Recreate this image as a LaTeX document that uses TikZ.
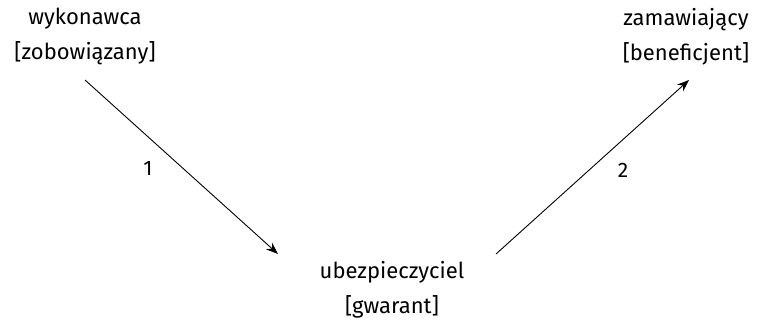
\documentclass[tikz,border=0pt]{standalone}
\usepackage{fontspec}
\setmainfont{Fira Sans}
\usetikzlibrary{arrows.meta}
\begin{document}
\begin{tikzpicture}[x=1pt,y=-1pt,
  lbl/.style={align=center,inner sep=0pt,font=\fontsize{22}{35}\selectfont},
  num/.style={inner sep=0pt,font=\fontsize{21}{24}\selectfont},
  arr/.style={-{Stealth[length=12pt,width=9pt]},line width=0.9pt}]
\useasboundingbox (0,0) rectangle (759,320);
\node[lbl] (wyk) at (85,36.5) {wykonawca\\{[}zobowiązany{]}};
\node[lbl] (zam) at (686,36.5) {zamawiający\\{[}beneficjent{]}};
\node[lbl] (ub) at (392,290) {ubezpieczyciel\\{[}gwarant{]}};
\coordinate (s1) at (85,80);
\coordinate (e1) at (278,254);
\coordinate (s2) at (496,254);
\coordinate (e2) at (689,80);
\draw[arr] (s1) -- (e1);
\draw[arr] (s2) -- (e2);
\node[num] (n1) at (148,168) {1};
\node[num] (n2) at (623,170) {2};
\end{tikzpicture}
\end{document}
